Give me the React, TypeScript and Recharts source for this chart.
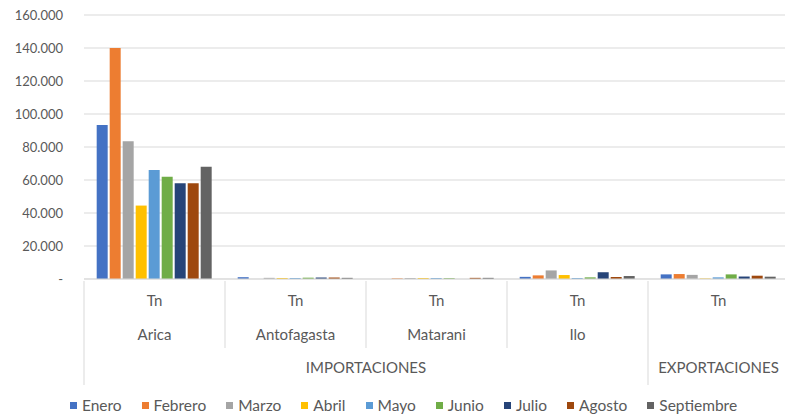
import React from "react";
import { BarChart, Bar, XAxis, YAxis, CartesianGrid, Legend } from "recharts";

const FONT = "Lato, 'Open Sans', sans-serif";
const TEXT = "#595959";
const GRID = "#d9d9d9";

const CHART_W = 789;
const CHART_H = 416;
const Y_W = 84;

// multi-level category axis
const units = ["Tn", "Tn", "Tn", "Tn", "Tn"];
const ports = ["Arica", "Antofagasta", "Matarani", "Ilo", ""];
const groups = ["IMPORTACIONES", "IMPORTACIONES", "IMPORTACIONES", "IMPORTACIONES", "EXPORTACIONES"];

const months = ["Enero", "Febrero", "Marzo", "Abril", "Mayo", "Junio", "Julio", "Agosto", "Septiembre"];
const colors = ["#4472C4", "#ED7D31", "#A5A5A5", "#FFC000", "#5B9BD5", "#70AD47", "#264478", "#9E480E", "#636363"];

// values per month, one per category (Arica, Antofagasta, Matarani, Ilo, Exportaciones)
const enero = [93300, 1100, 0, 1300, 2800];
const febrero = [140000, 0, 400, 2200, 3000];
const marzo = [83500, 700, 600, 5200, 2500];
const abril = [44500, 600, 600, 2400, 300];
const mayo = [66000, 600, 600, 600, 1000];
const junio = [62000, 800, 500, 1000, 2800];
const julio = [58000, 900, 0, 4100, 1500];
const agosto = [58000, 900, 700, 1200, 2000];
const septiembre = [68000, 700, 700, 1800, 1400];

const series = [enero, febrero, marzo, abril, mayo, junio, julio, agosto, septiembre];

const yTicks = [0, 20000, 40000, 60000, 80000, 100000, 120000, 140000, 160000];

const data = ports.map((p, i) => {
  const row: Record<string, string | number> = { key: `${groups[i]}-${p}-${i}` };
  months.forEach((m, j) => {
    row[m] = series[j][i];
  });
  return row;
});

const BAND = (CHART_W - Y_W) / ports.length;

const fmtY = (v: number) => (v === 0 ? "-" : v.toLocaleString("de-DE"));

function CategoryTick(props: any) {
  const { x, y, index } = props;
  const newGroup = index === 0 || groups[index] !== groups[index - 1];
  const left = x - BAND / 2;
  let groupLabel = null;
  if (newGroup) {
    let span = 1;
    while (index + span < groups.length && groups[index + span] === groups[index]) span++;
    groupLabel = (
      <text x={left + (span * BAND) / 2} y={y + 94} textAnchor="middle" fill={TEXT} fontSize={15} fontFamily={FONT}>
        {groups[index]}
      </text>
    );
  }
  const last = index === ports.length - 1;
  return (
    <g>
      <line x1={left} x2={left} y1={y + 2} y2={y + (newGroup ? 106 : 69)} stroke={GRID} />
      {last && <line x1={x + BAND / 2} x2={x + BAND / 2} y1={y + 2} y2={y + 106} stroke={GRID} />}
      <text x={x} y={y + 27} textAnchor="middle" fill={TEXT} fontSize={15} fontFamily={FONT}>
        {units[index]}
      </text>
      <text x={x} y={y + 61} textAnchor="middle" fill={TEXT} fontSize={15} fontFamily={FONT}>
        {ports[index]}
      </text>
      {groupLabel}
    </g>
  );
}

function LegendContent(props: any) {
  const payload = [...(props.payload || [])].sort(
    (a: any, b: any) => months.indexOf(a.value) - months.indexOf(b.value)
  );
  return (
    <div
      style={{
        display: "flex",
        justifyContent: "center",
        alignItems: "center",
        height: 20,
        paddingLeft: 18,
        fontFamily: FONT,
        fontSize: 15.5,
        color: TEXT,
      }}
    >
      {payload.map((entry: any, i: number) => (
        <div key={entry.value} style={{ display: "flex", alignItems: "center", marginRight: i < payload.length - 1 ? 20 : 0 }}>
          <span style={{ width: 7, height: 7, background: entry.color, marginRight: 5, display: "inline-block" }} />
          <span>{entry.value}</span>
        </div>
      ))}
    </div>
  );
}

export default function App() {
  return (
    <div style={{ position: "fixed", left: 0, top: 0, background: "#fff" }}>
      <BarChart
        width={CHART_W}
        height={CHART_H}
        data={data}
        margin={{ top: 15, right: 0, left: 0, bottom: 1 }}
        barCategoryGap="9%"
        barGap={2}
      >
        <CartesianGrid vertical={false} stroke={GRID} />
        <XAxis
          dataKey="key"
          height={116}
          interval={0}
          tickLine={false}
          tickSize={0}
          tickMargin={0}
          axisLine={{ stroke: GRID }}
          tick={<CategoryTick />}
        />
        <YAxis
          width={Y_W}
          domain={[0, 160000]}
          ticks={yTicks}
          tickFormatter={fmtY}
          axisLine={false}
          tickLine={false}
          tickSize={0}
          tickMargin={21}
          tick={{ fill: TEXT, fontSize: 13, fontFamily: FONT }}
        />
        {months.map((m, i) => (
          <Bar key={m} dataKey={m} fill={colors[i]} isAnimationActive={false} />
        ))}
        <Legend verticalAlign="bottom" content={<LegendContent />} />
      </BarChart>
    </div>
  );
}
